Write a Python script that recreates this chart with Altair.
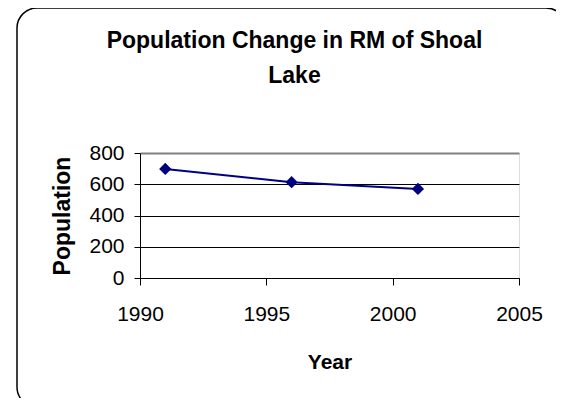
import altair as alt
import pandas as pd

# Data
years = [1991, 1996, 2001]
population = [698, 613, 570]

x_ticks = [1990, 1995, 2000, 2005]
y_ticks = [0, 200, 400, 600, 800]

title_lines = ["Population Change in RM of Shoal", "Lake"]
x_title = "Year"
y_title = "Population"

FONT = "Liberation Sans, Arial, sans-serif"
NAVY = "#000080"

df = pd.DataFrame({"Year": years, "Population": population})

x_enc = alt.X(
    "Year:Q",
    scale=alt.Scale(domain=[1990, 2005], nice=False, zero=False),
    axis=alt.Axis(
        values=x_ticks, format="d", grid=False, labelFlush=False, labelOverlap=False,
        labelFont=FONT, labelFontSize=21, labelColor="black", labelPadding=18,
        tickColor="black", tickSize=7, domainColor="black", domainWidth=1,
        title=x_title, titleFont=FONT, titleFontSize=21, titleFontWeight="bold",
        titleColor="black", titleY=90, titleBaseline="alphabetic",
    ),
)
y_enc = alt.Y(
    "Population:Q",
    scale=alt.Scale(domain=[0, 800], nice=False),
    axis=alt.Axis(
        values=y_ticks, grid=True,
        gridColor={"condition": {"test": "datum.value === 800", "value": "#808080"}, "value": "black"},
        gridWidth={"condition": {"test": "datum.value === 800", "value": 2}, "value": 1},
        labelFlush=False, labelOverlap=False,
        labelFont=FONT, labelFontSize=21, labelColor="black", labelPadding=10,
        tickColor="black", tickSize=6, domainColor="black", domainWidth=1,
        title=y_title, titleFont=FONT, titleFontSize=23, titleFontWeight="bold",
        titleColor="black", titleX=-78, titleY=62.5, titleAngle=270,
        titleBaseline="middle", titleAlign="center",
    ),
)

base = alt.Chart(df).encode(x=x_enc, y=y_enc)
line = base.mark_line(color=NAVY, strokeWidth=2)
pts = base.mark_point(shape="diamond", filled=True, size=150, color=NAVY, opacity=1)

title_df = pd.DataFrame({"t": ["\n".join(title_lines)]})
title = alt.Chart(title_df).mark_text(
    font=FONT, fontSize=23, fontWeight="bold", color="black",
    align="center", baseline="alphabetic", lineBreak="\n", lineHeight=35,
).encode(text="t:N", x=alt.value(154.5), y=alt.value(-105))

frame = alt.Chart(pd.DataFrame({"k": [0]})).mark_rect(
    filled=False, stroke="black", strokeWidth=1.5, cornerRadius=20
).encode(
    x=alt.value(-123), x2=alt.value(426), y=alt.value(-145), y2=alt.value(254)
)

chart = alt.layer(line, pts, title, frame).properties(
    width=379,
    height=125,
    autosize=alt.AutoSizeParams(type="none"),
    padding={"left": 132, "top": 145, "right": 37, "bottom": 120},
).configure_view(
    fill="#C0C0C0", stroke="#808080", strokeWidth=2
).configure(background="white")

chart.save("out.html", embed_options={"renderer": "svg", "actions": False})
